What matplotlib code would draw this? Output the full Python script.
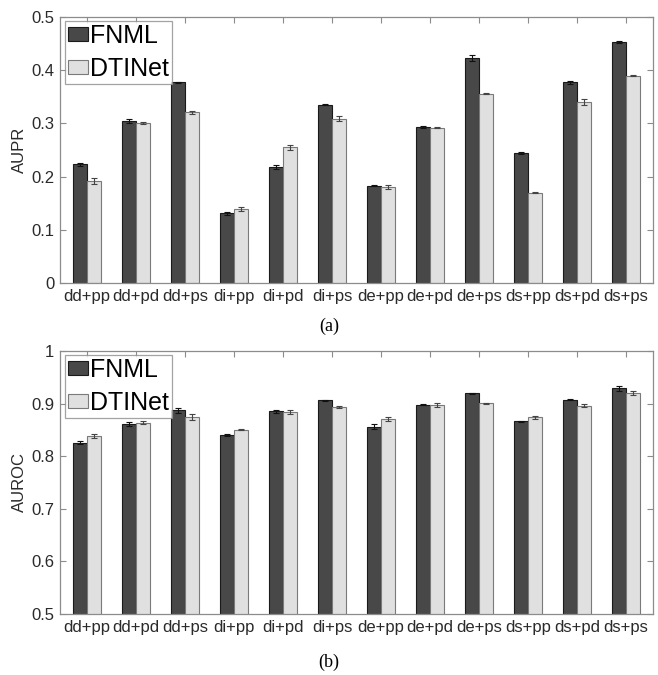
import numpy as np
import matplotlib
matplotlib.use("Agg")
import matplotlib.pyplot as plt


# ============================================================
# Data
# ============================================================

CATEGORIES = ["dd+pp", "dd+pd", "dd+ps", "di+pp", "di+pd", "di+ps",
              "de+pp", "de+pd", "de+ps", "ds+pp", "ds+pd", "ds+ps"]

AUPR_FNML = [0.223, 0.305, 0.377, 0.131, 0.218, 0.335,
             0.183, 0.293, 0.423, 0.244, 0.377, 0.453]
AUPR_FNML_ERR = [0.003, 0.004, 0.001, 0.003, 0.004, 0.001,
                 0.001, 0.002, 0.005, 0.002, 0.003, 0.001]
AUPR_DTINET = [0.192, 0.301, 0.321, 0.139, 0.255, 0.309,
               0.180, 0.292, 0.356, 0.170, 0.340, 0.390]
AUPR_DTINET_ERR = [0.005, 0.002, 0.003, 0.004, 0.005, 0.005,
                   0.004, 0.001, 0.001, 0.001, 0.005, 0.001]

AUROC_FNML = [0.826, 0.861, 0.887, 0.840, 0.885, 0.906,
              0.856, 0.898, 0.920, 0.866, 0.907, 0.929]
AUROC_FNML_ERR = [0.003, 0.004, 0.004, 0.002, 0.003, 0.001,
                  0.005, 0.001, 0.001, 0.001, 0.001, 0.005]
AUROC_DTINET = [0.839, 0.864, 0.874, 0.850, 0.884, 0.893,
                0.870, 0.897, 0.901, 0.874, 0.896, 0.920]
AUROC_DTINET_ERR = [0.004, 0.002, 0.006, 0.001, 0.003, 0.002,
                    0.004, 0.004, 0.001, 0.003, 0.003, 0.003]

SERIES_NAMES = ["FNML", "DTINet"]


# ============================================================
# Style
# ============================================================

plt.rcParams["font.family"] = ["Liberation Sans", "DejaVu Sans"]

DARK = "#484848"
LIGHT = "#e0e0e0"
AXIS_GREY = "#8c8c8c"
TEXT_COLOR = "#2a2a2a"
BAR_W = 0.29


def draw_panel(ax, fnml, fnml_err, dti, dti_err, ylim, yticks, ytick_labels, ylabel):
    x = np.arange(1, len(CATEGORIES) + 1)

    ax.bar(x - BAR_W / 2, fnml, BAR_W, color=DARK, edgecolor="#1a1a1a",
           linewidth=0.8, label=SERIES_NAMES[0], zorder=2)
    ax.bar(x + BAR_W / 2, dti, BAR_W, color=LIGHT, edgecolor="#7a7a7a",
           linewidth=0.8, label=SERIES_NAMES[1], zorder=2)

    ax.errorbar(x - BAR_W / 2, fnml, yerr=fnml_err, fmt="none",
                ecolor="#111111", elinewidth=0.8, capsize=2.5, capthick=0.8, zorder=3)
    ax.errorbar(x + BAR_W / 2, dti, yerr=dti_err, fmt="none",
                ecolor="#444444", elinewidth=0.8, capsize=2.5, capthick=0.8, zorder=3)

    ax.set_xlim(0.45, 12.55)
    ax.set_ylim(*ylim)
    ax.set_xticks(x)
    ax.set_xticklabels(CATEGORIES, fontsize=12, color=TEXT_COLOR)
    ax.set_yticks(yticks)
    ax.set_yticklabels(ytick_labels, fontsize=12, color=TEXT_COLOR)
    ax.set_ylabel(ylabel, fontsize=12, color=TEXT_COLOR, labelpad=3)

    for spine in ax.spines.values():
        spine.set_color(AXIS_GREY)
        spine.set_linewidth(0.9)

    ax.tick_params(direction="in", length=4, width=0.8, color=AXIS_GREY,
                   top=True, right=True, pad=4)

    leg = ax.legend(loc="upper left", bbox_to_anchor=(0.009, 0.985),
                    fontsize=18, frameon=True, fancybox=False,
                    handlelength=0.8, handleheight=0.45, handletextpad=0.08,
                    borderpad=0.12, labelspacing=0.35, borderaxespad=0.0)
    leg.get_frame().set_edgecolor("#8c8c8c")
    leg.get_frame().set_linewidth(0.9)


# ============================================================
# Figure
# ============================================================

fig = plt.figure(figsize=(6.58, 6.75), dpi=100)

ax_top = fig.add_axes([0.0912, 0.5807, 0.9012, 0.3941])
draw_panel(ax_top, AUPR_FNML, AUPR_FNML_ERR, AUPR_DTINET, AUPR_DTINET_ERR,
           (0, 0.5), [0, 0.1, 0.2, 0.3, 0.4, 0.5],
           ["0", "0.1", "0.2", "0.3", "0.4", "0.5"], "AUPR")

ax_bot = fig.add_axes([0.0912, 0.0904, 0.9012, 0.3896])
draw_panel(ax_bot, AUROC_FNML, AUROC_FNML_ERR, AUROC_DTINET, AUROC_DTINET_ERR,
           (0.5, 1.0), [0.5, 0.6, 0.7, 0.8, 0.9, 1.0],
           ["0.5", "0.6", "0.7", "0.8", "0.9", "1"], "AUROC")

fig.text(0.5, 0.517, "(a)", ha="center", va="center", fontsize=13,
         family=["Liberation Serif", "DejaVu Serif"])
fig.text(0.5, 0.019, "(b)", ha="center", va="center", fontsize=13,
         family=["Liberation Serif", "DejaVu Serif"])

fig.savefig("out.png", dpi=100)
